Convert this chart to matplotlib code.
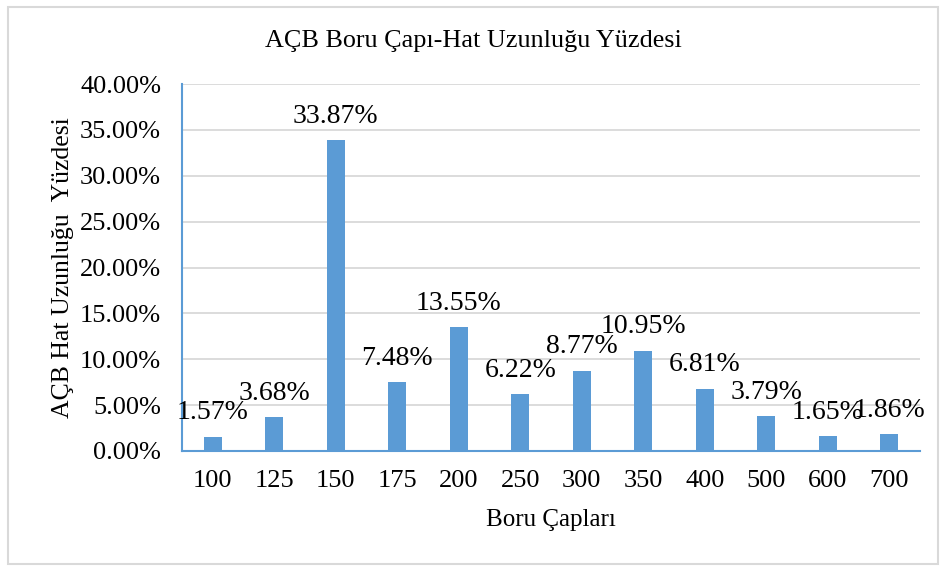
import matplotlib.pyplot as plt
from matplotlib.patches import Rectangle
from matplotlib.ticker import FuncFormatter

plt.rcParams['font.family'] = ['Liberation Serif', 'DejaVu Serif']

diameters = ["100", "125", "150", "175", "200", "250", "300", "350", "400", "500", "600", "700"]
shares = [1.57, 3.68, 33.87, 7.48, 13.55, 6.22, 8.77, 10.95, 6.81, 3.79, 1.65, 1.86]

blue = "#5B9BD5"

fig = plt.figure(figsize=(9.46, 5.70), dpi=100)
ax = fig.add_axes([0.1924, 0.2088, 0.7801, 0.6438])

x = range(len(diameters))
bars = ax.bar(x, shares, width=0.3, color=blue, zorder=3)

for xi, v in zip(x, shares):
    ax.annotate(f"{v:.2f}%", (xi, v), xytext=(0, 8), textcoords="offset points",
                ha="center", va="bottom", fontsize=20, zorder=4)

ax.set_xlim(-0.5, len(diameters) - 0.5)
ax.set_ylim(0, 40)
ax.set_yticks(range(0, 41, 5))
ax.yaxis.set_major_formatter(FuncFormatter(lambda v, p: f"{v:.2f}%"))
ax.set_xticks(list(x))
ax.set_xticklabels(diameters)
ax.tick_params(axis="both", length=0, labelsize=19)
ax.tick_params(axis="x", pad=14)
ax.tick_params(axis="y", pad=15)
ax.grid(axis="y", color="#D9D9D9", linewidth=1.3, zorder=0)

for s in ["top", "right"]:
    ax.spines[s].set_visible(False)
for s in ["left", "bottom"]:
    ax.spines[s].set_color(blue)
    ax.spines[s].set_linewidth(1.5)

ax.set_xlabel("Boru Çapları", fontsize=18, labelpad=12)
ax.set_ylabel("AÇB Hat Uzunluğu  Yüzdesi", fontsize=18.5, labelpad=4)
fig.text(0.5, 0.928, "AÇB Boru Çapı-Hat Uzunluğu Yüzdesi", ha="center", va="center", fontsize=18.8)

fig.patches.append(Rectangle((0.008, 0.01), 0.984, 0.978, transform=fig.transFigure,
                             fill=False, edgecolor="#D9D9D9", linewidth=1.5))

fig.savefig("out.png", dpi=100)
